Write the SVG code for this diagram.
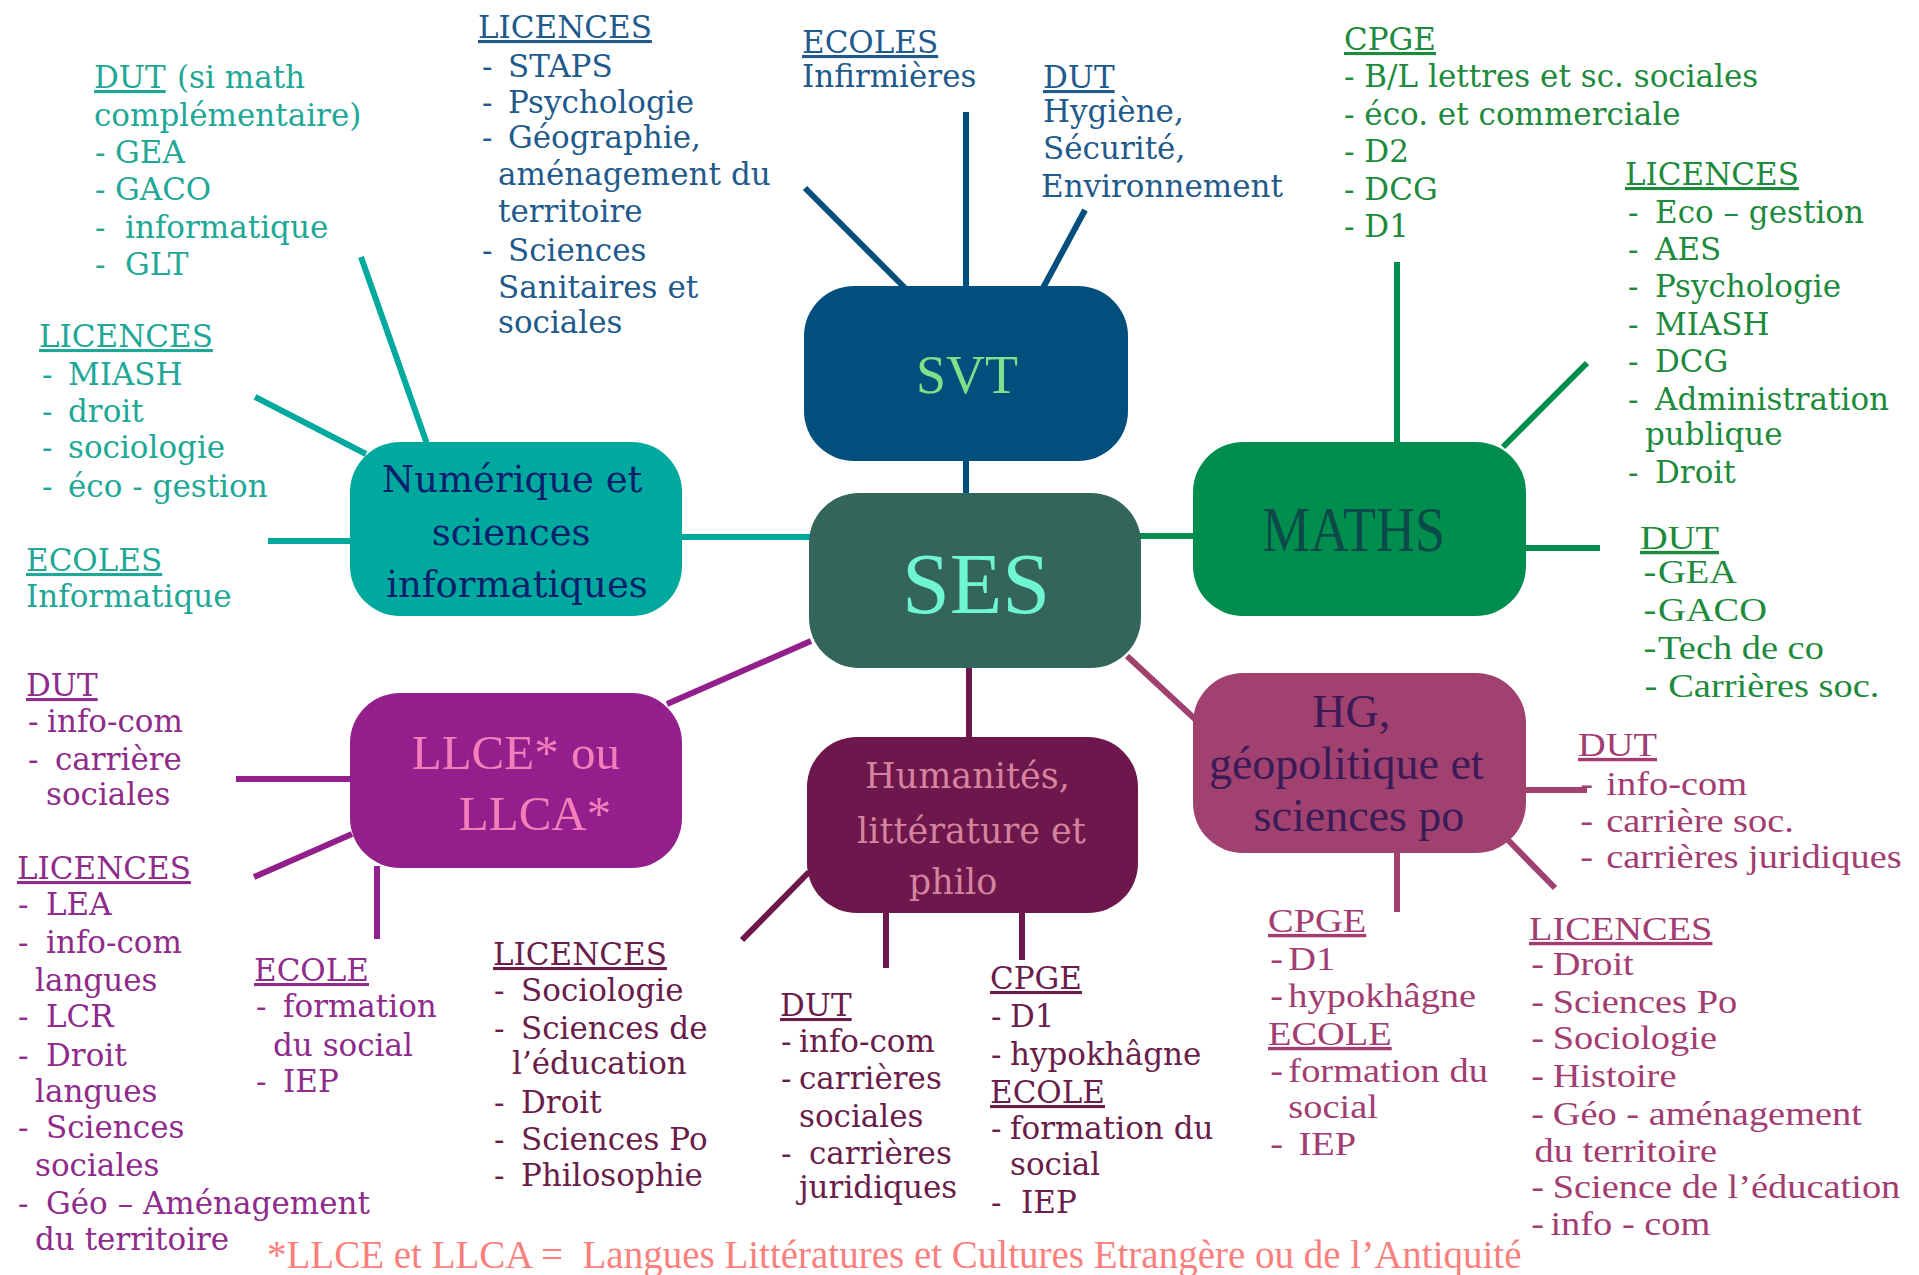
<svg xmlns="http://www.w3.org/2000/svg" width="1919" height="1275" viewBox="0 0 1919 1275">
<style>
.t{font-family:"DejaVu Serif","Liberation Serif",serif;font-size:31px}
.c{font-family:"Liberation Serif","DejaVu Serif",serif;font-size:34px}
.u{text-decoration:underline}
.teal{fill:#1fa797}.blue{fill:#1f5a8c}.green{fill:#1d8a3c}.purple{fill:#8e2b8b}.maroon{fill:#6a1d4b}.mauve{fill:#a23d72}
.ln{stroke-width:6;stroke-linecap:butt;fill:none}
.nt{text-anchor:middle}
</style>
<rect width="1919" height="1275" fill="#ffffff"/>

<g id="connectors">
  <g stroke="#00a99d" class="ln">
    <line x1="361" y1="257" x2="427" y2="444"/>
    <line x1="255" y1="397" x2="366" y2="454"/>
    <line x1="268" y1="541" x2="352" y2="541"/>
    <line x1="680" y1="537" x2="811" y2="537"/>
  </g>
  <g stroke="#024f7d" class="ln">
    <line x1="805" y1="188" x2="905" y2="288"/>
    <line x1="966" y1="112" x2="966" y2="288"/>
    <line x1="1085" y1="210" x2="1043" y2="288"/>
    <line x1="966" y1="459" x2="966" y2="505"/>
  </g>
  <g stroke="#008d4e" class="ln">
    <line x1="1397" y1="262" x2="1397" y2="444"/>
    <line x1="1587" y1="363" x2="1503" y2="447"/>
    <line x1="1524" y1="548" x2="1600" y2="548"/>
    <line x1="1139" y1="536" x2="1195" y2="536"/>
  </g>
  <g stroke="#931f8c" class="ln">
    <line x1="811" y1="641" x2="667" y2="704"/>
    <line x1="236" y1="779" x2="352" y2="779"/>
    <line x1="254" y1="877" x2="352" y2="834"/>
    <line x1="377" y1="866" x2="377" y2="939"/>
  </g>
  <g stroke="#6d174c" class="ln">
    <line x1="969" y1="666" x2="969" y2="739"/>
    <line x1="809" y1="872" x2="742" y2="940"/>
    <line x1="886" y1="911" x2="886" y2="968"/>
    <line x1="1022" y1="911" x2="1022" y2="960"/>
  </g>
  <g stroke="#a0416f" class="ln">
    <line x1="1127" y1="656" x2="1196" y2="720"/>
    <line x1="1524" y1="790" x2="1587" y2="790"/>
    <line x1="1397" y1="851" x2="1397" y2="912"/>
    <line x1="1508" y1="840" x2="1555" y2="888"/>
  </g>
</g>

<g id="node-svt">
  <rect x="804" y="286" width="324" height="175" rx="50" fill="#024f7d"/>
  <text class="nt" x="967" y="393" font-family="Liberation Serif, serif" font-size="54" fill="#7fe08a">SVT</text>
</g>
<g id="node-ses">
  <rect x="809" y="493" width="332" height="175" rx="50" fill="#33655a"/>
  <text class="nt" x="976" y="613" font-family="Liberation Serif, serif" font-size="86" fill="#70f5d3">SES</text>
</g>
<g id="node-numerique">
  <rect x="350" y="442" width="332" height="174" rx="50" fill="#00a99d"/>
  <text class="nt" font-family="DejaVu Serif, serif" font-size="37" fill="#0c1f6e">
    <tspan x="518" y="492">Numérique et</tspan>
    <tspan x="517" y="545">sciences</tspan>
    <tspan x="517" y="597">informatiques</tspan>
  </text>
</g>
<g id="node-maths">
  <rect x="1193" y="442" width="333" height="174" rx="50" fill="#008d4e"/>
  <text x="1262" y="551" font-family="Liberation Serif, serif" font-size="64" fill="#0b4a48" textLength="183" lengthAdjust="spacingAndGlyphs">MATHS</text>
</g>
<g id="node-llce">
  <rect x="350" y="693" width="332" height="175" rx="50" fill="#931f8c"/>
  <text class="nt" font-family="Liberation Serif, serif" font-size="49" fill="#f27fb9">
    <tspan x="522" y="769">LLCE* ou</tspan>
    <tspan x="535" y="830">LLCA*</tspan>
  </text>
</g>
<g id="node-humanites">
  <rect x="807" y="737" width="331" height="176" rx="50" fill="#6d174c"/>
  <text class="nt" font-family="DejaVu Serif, serif" font-size="35" fill="#d4849e">
    <tspan x="973" y="788">Humanités,</tspan>
    <tspan x="977" y="843">littérature et</tspan>
    <tspan x="953" y="894">philo</tspan>
  </text>
</g>
<g id="node-hg">
  <rect x="1193" y="673" width="333" height="180" rx="50" fill="#a0416f"/>
  <text class="nt" font-family="Liberation Serif, serif" font-size="46" fill="#3b1b57">
    <tspan x="1357" y="727">HG,</tspan>
    <tspan x="1352" y="779">géopolitique et</tspan>
    <tspan x="1359" y="831">sciences po</tspan>
  </text>
</g>

<g id="num-dut" class="t teal">
  <text class="u" x="94" y="88">DUT</text>
  <text x="177" y="88">(si math</text>
  <text x="94" y="126">complémentaire)</text>
  <text x="95" y="163">-<tspan x="115">GEA</tspan></text>
  <text x="95" y="200">-<tspan x="115">GACO</tspan></text>
  <text x="95" y="238">-<tspan x="125">informatique</tspan></text>
  <text x="95" y="275">-<tspan x="125">GLT</tspan></text>
</g>
<g id="num-licences" class="t teal">
  <text class="u" x="39" y="347">LICENCES</text>
  <text x="42" y="385">-<tspan x="68">MIASH</tspan></text>
  <text x="42" y="422">-<tspan x="68">droit</tspan></text>
  <text x="42" y="458">-<tspan x="68">sociologie</tspan></text>
  <text x="42" y="497">-<tspan x="68">éco - gestion</tspan></text>
</g>
<g id="num-ecoles" class="t teal">
  <text class="u" x="26" y="571">ECOLES</text>
  <text x="26" y="607">Informatique</text>
</g>

<g id="svt-licences" class="t blue">
  <text class="u" x="478" y="38">LICENCES</text>
  <text x="482" y="77">-<tspan x="508">STAPS</tspan></text>
  <text x="482" y="113">-<tspan x="508">Psychologie</tspan></text>
  <text x="482" y="148">-<tspan x="508">Géographie,</tspan></text>
  <text x="498" y="185">aménagement du</text>
  <text x="498" y="222">territoire</text>
  <text x="482" y="261">-<tspan x="508">Sciences</tspan></text>
  <text x="498" y="298">Sanitaires et</text>
  <text x="498" y="333">sociales</text>
</g>
<g id="svt-ecoles" class="t blue">
  <text class="u" x="802" y="53">ECOLES</text>
  <text x="802" y="87">Infirmières</text>
</g>
<g id="svt-dut" class="t blue">
  <text class="u" x="1043" y="88">DUT</text>
  <text x="1043" y="122">Hygiène,</text>
  <text x="1043" y="159">Sécurité,</text>
  <text x="1041" y="197">Environnement</text>
</g>

<g id="maths-cpge" class="t green">
  <text class="u" x="1344" y="50">CPGE</text>
  <text x="1344" y="87">- B/L lettres et sc. sociales</text>
  <text x="1344" y="125">- éco. et commerciale</text>
  <text x="1344" y="162">- D2</text>
  <text x="1344" y="200">- DCG</text>
  <text x="1344" y="237">- D1</text>
</g>
<g id="maths-licences" class="t green">
  <text class="u" x="1625" y="185">LICENCES</text>
  <text x="1628" y="223">-<tspan x="1655">Eco – gestion</tspan></text>
  <text x="1628" y="260">-<tspan x="1655">AES</tspan></text>
  <text x="1628" y="297">-<tspan x="1655">Psychologie</tspan></text>
  <text x="1628" y="335">-<tspan x="1655">MIASH</tspan></text>
  <text x="1628" y="372">-<tspan x="1655">DCG</tspan></text>
  <text x="1628" y="410">-<tspan x="1655">Administration</tspan></text>
  <text x="1645" y="445">publique</text>
  <text x="1628" y="483">-<tspan x="1655">Droit</tspan></text>
</g>
<g id="maths-dut" class="c green" transform="matrix(1.13 0 0 1 -213.2 0)">
  <text class="u" x="1640" y="549">DUT</text>
  <text x="1643" y="583">-<tspan x="1656">GEA</tspan></text>
  <text x="1643" y="621">-<tspan x="1656">GACO</tspan></text>
  <text x="1643" y="659">-<tspan x="1656">Tech de co</tspan></text>
  <text x="1644" y="697">-<tspan x="1665">Carrières soc.</tspan></text>
</g>

<g id="llce-dut" class="t purple">
  <text class="u" x="26" y="696">DUT</text>
  <text x="28" y="732">-<tspan x="47">info-com</tspan></text>
  <text x="28" y="770">-<tspan x="55">carrière</tspan></text>
  <text x="46" y="805">sociales</text>
</g>
<g id="llce-licences" class="t purple">
  <text class="u" x="17" y="879">LICENCES</text>
  <text x="18" y="915">-<tspan x="46">LEA</tspan></text>
  <text x="18" y="953">-<tspan x="46">info-com</tspan></text>
  <text x="35" y="991">langues</text>
  <text x="18" y="1027">-<tspan x="46">LCR</tspan></text>
  <text x="18" y="1066">-<tspan x="46">Droit</tspan></text>
  <text x="35" y="1102">langues</text>
  <text x="18" y="1138">-<tspan x="46">Sciences</tspan></text>
  <text x="35" y="1176">sociales</text>
  <text x="18" y="1214">-<tspan x="46">Géo – Aménagement</tspan></text>
  <text x="35" y="1250">du territoire</text>
</g>
<g id="llce-ecole" class="t purple">
  <text class="u" x="254" y="981">ECOLE</text>
  <text x="256" y="1017">-<tspan x="283">formation</tspan></text>
  <text x="273" y="1056">du social</text>
  <text x="256" y="1092">-<tspan x="283">IEP</tspan></text>
</g>

<g id="hum-licences" class="t maroon">
  <text class="u" x="493" y="965">LICENCES</text>
  <text x="494" y="1001">-<tspan x="521">Sociologie</tspan></text>
  <text x="494" y="1039">-<tspan x="521">Sciences de</tspan></text>
  <text x="512" y="1074">l’éducation</text>
  <text x="494" y="1113">-<tspan x="521">Droit</tspan></text>
  <text x="494" y="1150">-<tspan x="521">Sciences Po</tspan></text>
  <text x="494" y="1186">-<tspan x="521">Philosophie</tspan></text>
</g>
<g id="hum-dut" class="t maroon">
  <text class="u" x="780" y="1016">DUT</text>
  <text x="781" y="1052">-<tspan x="799">info-com</tspan></text>
  <text x="781" y="1089">-<tspan x="799">carrières</tspan></text>
  <text x="799" y="1127">sociales</text>
  <text x="781" y="1164">-<tspan x="809">carrières</tspan></text>
  <text x="799" y="1198">juridiques</text>
</g>
<g id="hum-cpge" class="t maroon">
  <text class="u" x="990" y="989">CPGE</text>
  <text x="991" y="1027">-<tspan x="1010">D1</tspan></text>
  <text x="991" y="1065">-<tspan x="1010">hypokhâgne</tspan></text>
  <text class="u" x="990" y="1103">ECOLE</text>
  <text x="991" y="1139">-<tspan x="1010">formation du</tspan></text>
  <text x="1010" y="1175">social</text>
  <text x="991" y="1213">-<tspan x="1021">IEP</tspan></text>
</g>

<g id="hg-dut" class="c mauve" transform="matrix(1.13 0 0 1 -205.1 0)">
  <text class="u" x="1578" y="756">DUT</text>
  <text x="1580" y="795">-<tspan x="1603">info-com</tspan></text>
  <text x="1580" y="832">-<tspan x="1603">carrière soc.</tspan></text>
  <text x="1580" y="868">-<tspan x="1603">carrières juridiques</tspan></text>
</g>
<g id="hg-cpge" class="c mauve" transform="matrix(1.13 0 0 1 -164.8 0)">
  <text class="u" x="1268" y="932">CPGE</text>
  <text x="1270" y="970">-<tspan x="1286">D1</tspan></text>
  <text x="1270" y="1007">-<tspan x="1286">hypokhâgne</tspan></text>
  <text class="u" x="1268" y="1045">ECOLE</text>
  <text x="1270" y="1082">-<tspan x="1286">formation du</tspan></text>
  <text x="1286" y="1118">social</text>
  <text x="1270" y="1155">-<tspan x="1295">IEP</tspan></text>
</g>
<g id="hg-licences" class="c mauve" transform="matrix(1.13 0 0 1 -198.8 0)">
  <text class="u" x="1529" y="940">LICENCES</text>
  <text x="1531" y="975">-<tspan x="1550">Droit</tspan></text>
  <text x="1531" y="1013">-<tspan x="1550">Sciences Po</tspan></text>
  <text x="1531" y="1049">-<tspan x="1550">Sociologie</tspan></text>
  <text x="1531" y="1087">-<tspan x="1550">Histoire</tspan></text>
  <text x="1531" y="1125">-<tspan x="1550">Géo - aménagement</tspan></text>
  <text x="1534" y="1162">du territoire</text>
  <text x="1531" y="1198">-<tspan x="1550">Science de l’éducation</tspan></text>
  <text x="1531" y="1235">-<tspan x="1548">info - com</tspan></text>
</g>

<g id="footnote">
  <text x="267" y="1268" font-family="Liberation Serif, serif" font-size="39" fill="#fa7f7d">*LLCE et LLCA =&#160; Langues Littératures et Cultures Etrangère ou de l’Antiquité</text>
</g>
</svg>
